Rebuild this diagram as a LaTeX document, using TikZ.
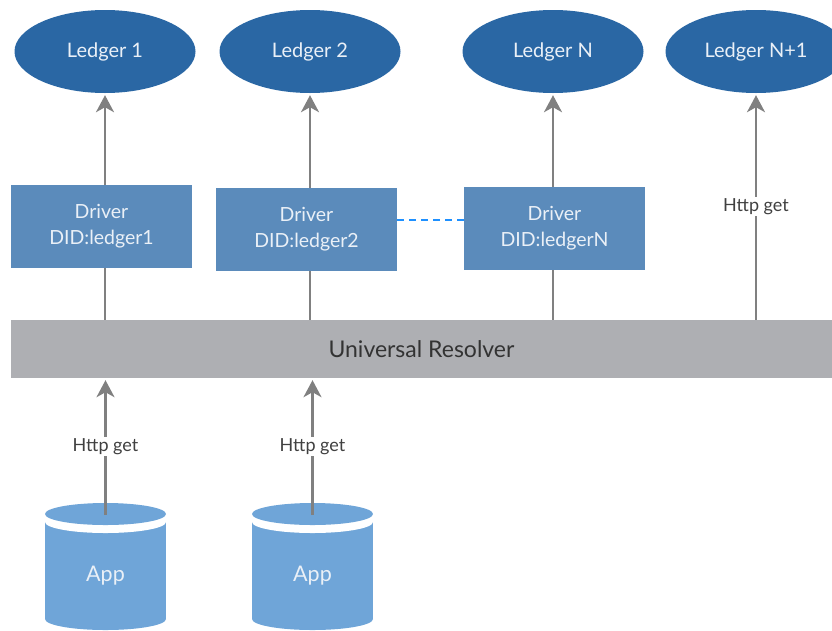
\documentclass[tikz,border=0pt]{standalone}
\usepackage{fontspec}
\setmainfont{Lato}
\usetikzlibrary{shapes.geometric,arrows.meta}
\definecolor{ledgerblue}{RGB}{42,103,164}
\definecolor{driverblue}{RGB}{91,139,187}
\definecolor{appblue}{RGB}{111,165,216}
\definecolor{bargray}{RGB}{174,175,179}
\definecolor{linegray}{RGB}{128,128,128}
\definecolor{dashblue}{RGB}{30,144,255}
\definecolor{lighttext}{RGB}{234,240,247}
\definecolor{labeltext}{RGB}{64,64,64}
\tikzset{
  ledger/.style={ellipse, fill=ledgerblue, minimum width=181pt, minimum height=83pt, inner sep=0pt, text=lighttext, font=\fontsize{20}{22}\selectfont},
  driverbox/.style={rectangle, fill=driverblue, minimum width=181pt, minimum height=83pt, inner sep=0pt, text=lighttext, align=center, font=\fontsize{19.5}{26}\selectfont},
  conn/.style={draw=linegray, line width=2.5pt},
  arr/.style={conn, -{Stealth[length=17pt,width=18pt,inset=5pt]}, shorten >=2pt},
  lbl/.style={fill=white, text=labeltext, font=\fontsize{18}{20}\selectfont, inner sep=1.5pt},
  apptext/.style={text=lighttext, font=\fontsize{21.5}{24}\selectfont, inner sep=0pt},
}
\begin{document}
\begin{tikzpicture}[x=1pt,y=-1pt]
\useasboundingbox (0,0) rectangle (832,630);
% ledgers
\node[ledger] (l1) at (105,51.5) {Ledger 1};
\node[ledger] (l2) at (310,51.5) {Ledger 2};
\node[ledger] (lN) at (553,51.5) {Ledger N};
\node[ledger] (lN1) at (756,51.5) {Ledger N+1};
% drivers
\node[driverbox] (d1) at (101.5,226.5) {Driver\\DID:ledger1};
\node[driverbox] (d2) at (306.5,229.5) {Driver\\DID:ledger2};
\node[driverbox] (dN) at (554.5,228.5) {Driver\\DID:ledgerN};
% resolver bar
\node[rectangle, fill=bargray, minimum width=821pt, minimum height=58pt, inner sep=0pt, text=black!80, font=\fontsize{23}{26}\selectfont] (res) at (421.5,349) {Universal Resolver};
% driver -> ledger arrows
\draw[arr] (d1.north -| l1) -- (l1);
\draw[arr] (d2.north -| l2) -- (l2);
\draw[arr] (dN.north -| lN) -- (lN);
% driver -> resolver lines
\draw[conn] (d1.south -| l1) -- (res.north -| l1);
\draw[conn] (d2.south -| l2) -- (res.north -| l2);
\draw[conn] (dN.south -| lN) -- (res.north -| lN);
% resolver -> ledger N+1
\draw[arr] (res.north -| lN1) -- node[lbl] (h3) {Http get} (lN1);
% dashed link
\coordinate (dashy) at (0,219.5);
\draw[dashblue, line width=2pt, dash pattern=on 7pt off 5pt] (d2.east |- dashy) -- (dN.west |- dashy);
% apps
\foreach \cx/\nm in {105.5/app1, 312.5/app2}{
  \fill[appblue] (\cx-60.5,522) rectangle (\cx+60.5,619);
  \fill[appblue] (\cx,619) ellipse [x radius=60.5, y radius=11];
  \fill[white] (\cx,522) ellipse [x radius=60.5, y radius=11];
  \fill[appblue] (\cx,514) ellipse [x radius=60.5, y radius=11];
  \node[apptext] (\nm) at (\cx,576) {App};
  \coordinate (\nm top) at (\cx,515);
}
\draw[arr] (app1top) -- node[lbl] (h1) {Http get} (app1top |- res.south);
\draw[arr] (app2top) -- node[lbl] (h2) {Http get} (app2top |- res.south);
\end{tikzpicture}
\end{document}
